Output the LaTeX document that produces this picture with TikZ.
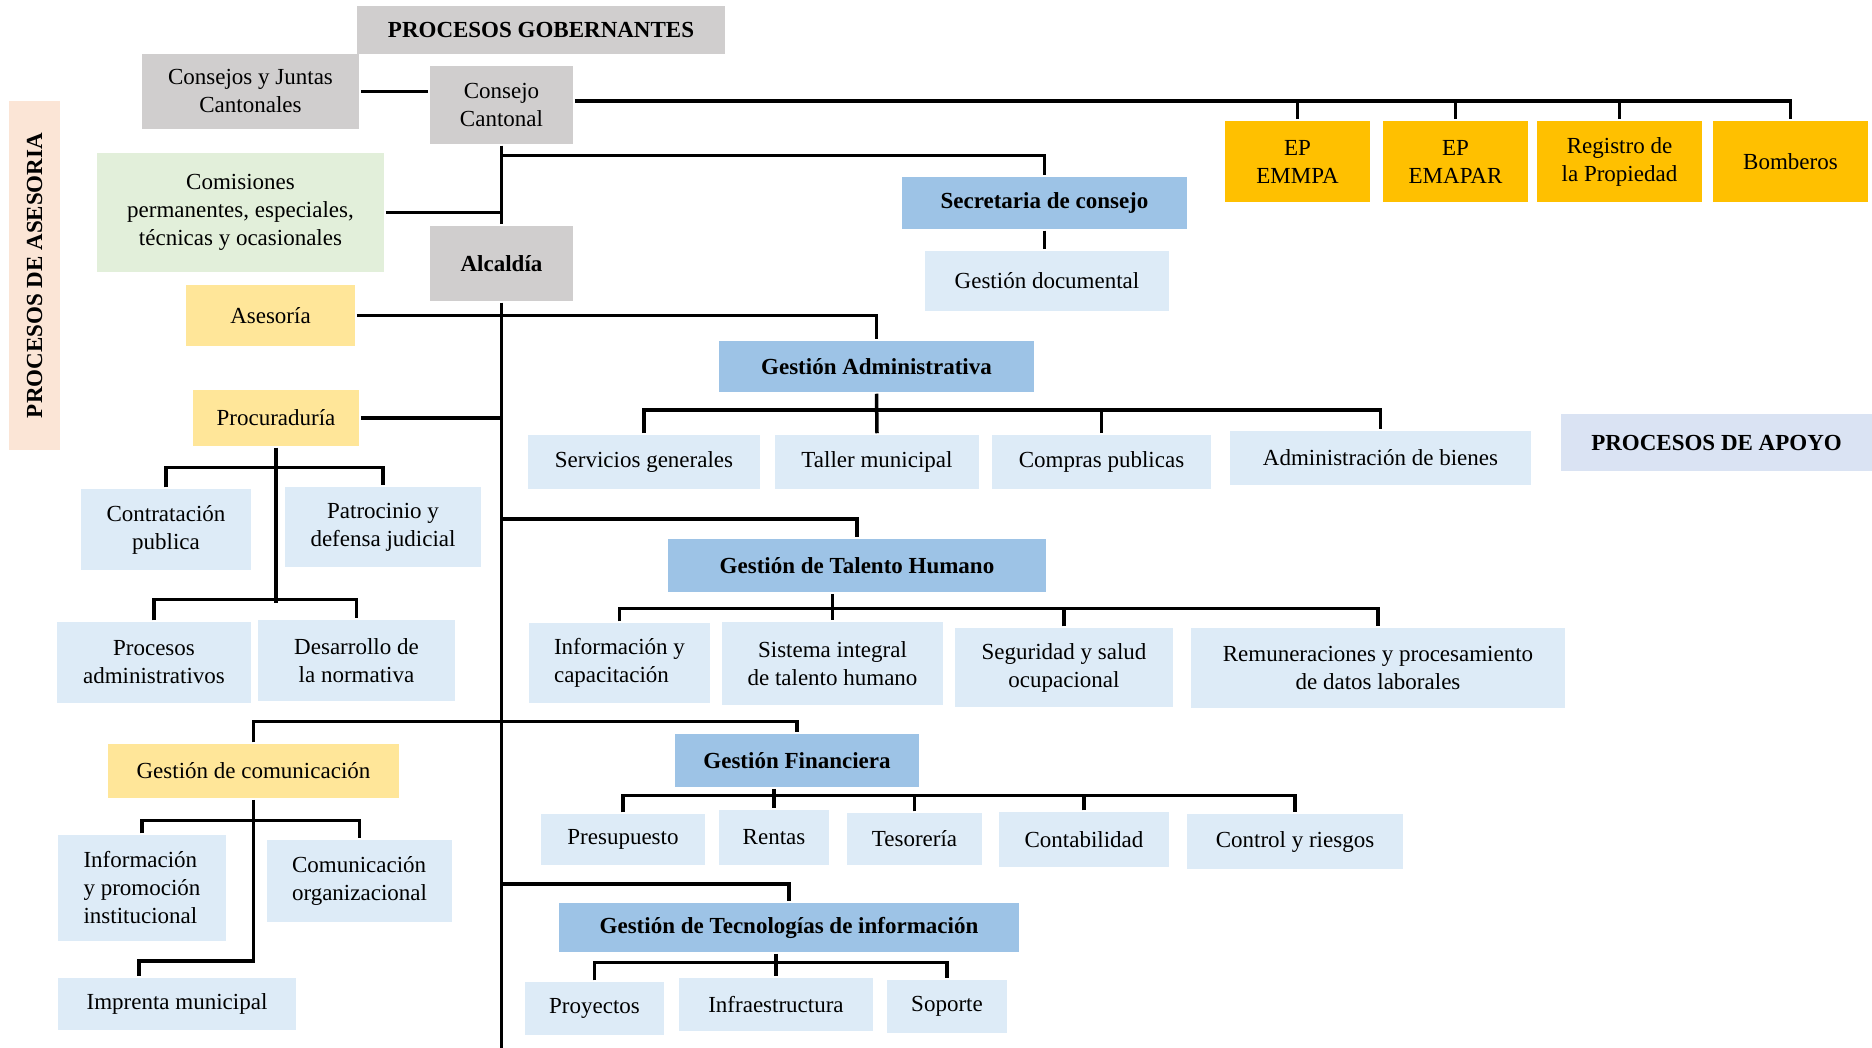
\documentclass[tikz,border=0pt]{standalone}
\usepackage{fontspec}
\setmainfont{Liberation Serif}
\definecolor{cgris}{HTML}{D0CECE}
\definecolor{cverde}{HTML}{E2EFDA}
\definecolor{camarillo}{HTML}{FFE699}
\definecolor{cnaranja}{HTML}{FFC000}
\definecolor{cazul}{HTML}{9DC3E6}
\definecolor{cceleste}{HTML}{DDEBF7}
\definecolor{capoyo}{HTML}{DAE3F3}
\definecolor{cdurazno}{HTML}{FBE5D6}

\begin{document}
\begin{tikzpicture}[x=1pt,y=-1pt,line width=3.5pt]
    \tikzstyle{every node}=[inner sep=0pt, align=center, font=\fontsize{23}{28}\selectfont]
    \tikzstyle{negrita}=[font=\fontsize{23}{28}\selectfont\bfseries]
    \tikzstyle{gobierno}=[fill=cgris]
    \tikzstyle{comision}=[fill=cverde]
    \tikzstyle{asesor}=[fill=camarillo]
    \tikzstyle{empresa}=[fill=cnaranja]
    \tikzstyle{jefatura}=[fill=cazul, negrita]
    \tikzstyle{unidad}=[fill=cceleste]
    \useasboundingbox (0,0) rectangle (1872,1048);

    \node[gobierno, negrita, minimum width=368, minimum height=48] (gob) at (541,30) {PROCESOS GOBERNANTES};
    \node[gobierno, minimum width=217, minimum height=75] (cjc) at (250.5,91.5) {Consejos y Juntas\\Cantonales};
    \node[gobierno, minimum width=143, minimum height=78] (cc) at (501.5,105) {Consejo\\Cantonal};
    \node[comision, minimum width=287, minimum height=119] (com) at (240.5,212.5) {Comisiones\\permanentes, especiales,\\técnicas y ocasionales};
    \node[gobierno, negrita, minimum width=143, minimum height=75] (alc) at (501.5,263.5) {Alcaldía};
    \node[fill=cdurazno, negrita, rotate=90, minimum width=349, minimum height=51] (lase) at (34.5,275.5) {PROCESOS DE ASESORIA};
    \node[fill=capoyo, negrita, minimum width=311, minimum height=57] (apo) at (1716.5,442.5) {PROCESOS DE APOYO};

    \node[empresa, minimum width=145, minimum height=81] (emmpa) at (1297.5,161.5) {EP\\EMMPA};
    \node[empresa, minimum width=145, minimum height=81] (emapar) at (1455.5,161.5) {EP\\EMAPAR};
    \node[empresa, minimum width=165, minimum height=81] (reg) at (1619.5,161.5) {Registro de\\la Propiedad};
    \node[empresa, minimum width=155, minimum height=81] (bom) at (1790.5,161.5) {Bomberos};

    \node[jefatura, minimum width=285, minimum height=52] (sec) at (1044.5,203) {Secretaria de consejo};
    \node[unidad, minimum width=244, minimum height=60] (gdoc) at (1047,281) {Gestión documental};

    \node[asesor, minimum width=169, minimum height=61] (ase) at (270.5,315.5) {Asesoría};
    \node[asesor, minimum width=166, minimum height=56] (procu) at (276,418) {Procuraduría};
    \node[unidad, minimum width=170, minimum height=81] (contr) at (166,529.5) {Contratación\\publica};
    \node[unidad, minimum width=196, minimum height=80] (patr) at (383,527) {Patrocinio y\\defensa judicial};
    \node[unidad, minimum width=194, minimum height=81] (padm) at (154,662.5) {Procesos\\administrativos};
    \node[unidad, minimum width=197, minimum height=81] (desn) at (356.5,660.5) {Desarrollo de\\la normativa};
    \node[asesor, minimum width=291, minimum height=54] (gcom) at (253.5,771) {Gestión de comunicación};
    \node[unidad, align=left, minimum width=168, minimum height=106] (ipi) at (142,888) {Información\\y promoción\\institucional};
    \node[unidad, align=left, minimum width=185, minimum height=82] (corg) at (359.5,881) {Comunicación\\organizacional};
    \node[unidad, minimum width=238, minimum height=52] (imp) at (177,1004) {Imprenta municipal};

    \node[jefatura, minimum width=315, minimum height=51] (ga) at (876.5,366.5) {Gestión Administrativa};
    \node[unidad, minimum width=232, minimum height=54] (serv) at (644,462) {Servicios generales};
    \node[unidad, minimum width=204, minimum height=54] (taller) at (877,462) {Taller municipal};
    \node[unidad, minimum width=219, minimum height=54] (compras) at (1101.5,462) {Compras publicas};
    \node[unidad, minimum width=301, minimum height=54] (admb) at (1380.5,458) {Administración de bienes};

    \node[jefatura, minimum width=378, minimum height=53] (th) at (857,565.5) {Gestión de Talento Humano};
    \node[unidad, align=left, minimum width=181, minimum height=80] (infc) at (619.5,663) {Información y\\capacitación};
    \node[unidad, minimum width=221, minimum height=83] (sist) at (832.5,663.5) {Sistema integral\\de talento humano};
    \node[unidad, minimum width=218, minimum height=79] (seg) at (1064,667.5) {Seguridad y salud\\ocupacional};
    \node[unidad, minimum width=374, minimum height=80] (rem) at (1378,668) {Remuneraciones y procesamiento\\de datos laborales};

    \node[jefatura, minimum width=244, minimum height=53] (gf) at (797,760.5) {Gestión Financiera};
    \node[unidad, minimum width=164, minimum height=51] (pres) at (623,839.5) {Presupuesto};
    \node[unidad, minimum width=110, minimum height=55] (rent) at (774,837.5) {Rentas};
    \node[unidad, minimum width=135, minimum height=52] (tes) at (914.5,839) {Tesorería};
    \node[unidad, minimum width=170, minimum height=55] (cont) at (1084,839.5) {Contabilidad};
    \node[unidad, minimum width=216, minimum height=55] (ctrl) at (1295,841.5) {Control y riesgos};

    \node[jefatura, minimum width=460, minimum height=49] (ti) at (789,927.5) {Gestión de Tecnologías de información};
    \node[unidad, minimum width=139, minimum height=53] (proy) at (594.5,1008.5) {Proyectos};
    \node[unidad, minimum width=194, minimum height=53] (infra) at (776,1004.5) {Infraestructura};
    \node[unidad, minimum width=120, minimum height=53] (sop) at (947,1006.5) {Soporte};

    \coordinate (fin) at (501.5,1048);
    \draw (cjc.east) -- (cjc.east -| cc.west);
    \draw (cc.south) -- (alc.north);
    \draw (alc.south) -- (fin);
    \draw (cc.east) ++(0,-4) -| (bom.north);
    \foreach \e in {emmpa,emapar,reg}
        \draw (\e.north) -- ++(0,-20);
    \draw (cc.south) ++(0,10) -| (sec.north);
    \draw (sec.south) -- (sec.south |- gdoc.north);
    \draw (com.east) -- (com.east -| alc.north);
    \draw (ase.east) -| (ga.north);
    \draw (procu.east) -- (procu.east -| alc.south);
    \draw (alc.south) ++(0,216) -| (th.north);
    \draw (gcom.north) -- ++(0,-21) -| (gf.north);
    \draw (alc.south) ++(0,581) -| (ti.north);

    \draw (procu.south) -- ++(0,155);
    \draw (contr.north) -- ++(0,-20) -| (patr.north);
    \draw (padm.north) -- ++(0,-21) -| (desn.north);

    \draw (gcom.south) -- ++(0,161) -| ([xshift=-38pt]imp.north);
    \draw (ipi.north) -- ++(0,-13) -| (corg.north);

    \draw (serv.north) -- ++(0,-23) -| (admb.north);
    \draw (ga.south) -- (taller.north);
    \draw (compras.north) -- ++(0,-23);

    \draw (infc.north) -- ++(0,-13) -| (rem.north);
    \draw (th.south -| sist.north) -- (sist.north);
    \draw (seg.north) -- ++(0,-18);

    \draw (pres.north) -- ++(0,-17) -| (ctrl.north);
    \draw (gf.south -| rent.north) -- (rent.north);
    \draw (tes.north) -- ++(0,-16);
    \draw (cont.north) -- ++(0,-15);

    \draw (proy.north) -- ++(0,-18) -| (sop.north);
    \draw (ti.south -| infra.north) -- (infra.north);
\end{tikzpicture}
\end{document}
